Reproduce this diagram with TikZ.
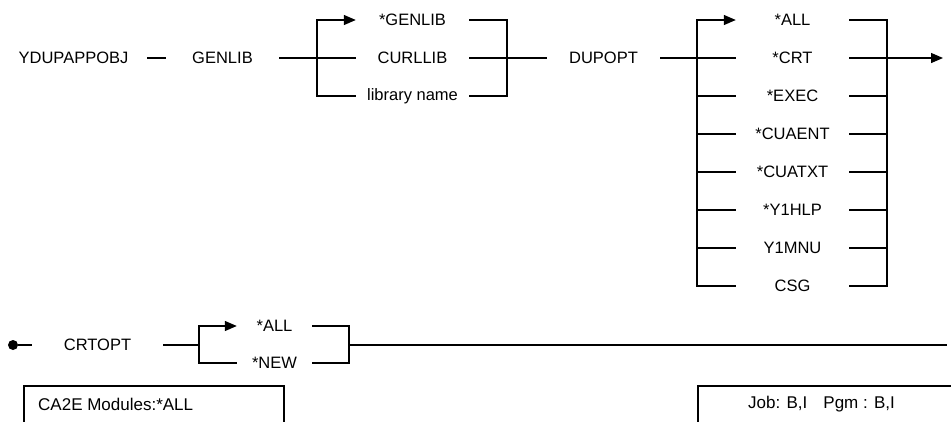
\documentclass[tikz,border=0pt]{standalone}
\usepackage{fontspec}
\setmainfont{Liberation Sans}
\usetikzlibrary{positioning, arrows.meta, calc}

\begin{document}
\begin{tikzpicture}[
  x=1pt, y=-1pt,
  kw/.style={font=\fontsize{16.5}{18}\selectfont, inner sep=0pt,
    minimum width=#1, minimum height=38pt},
  kw/.default={113pt},
  rail/.style={line width=1.3pt},
  panel/.style={draw, line width=1.6pt, inner sep=0pt},
  boxtxt/.style={font=\fontsize{17}{19}\selectfont, inner sep=0pt},
  >={Triangle[length=12pt, width=10pt]}
]
  \useasboundingbox (0,0) rectangle (951,421);
  \clip (0,0) rectangle (951,421);
  % command and first keyword
  \node[kw=147pt] (cmd) at (73.5, 58) {YDUPAPPOBJ};
  \node[kw] (kgen) at (222.5, 58) {GENLIB};
  % library choices
  \node[kw] (g1) at (412.5, 20) {*GENLIB};
  \node[kw] (g2) at (412.5, 58) {CURLLIB};
  \node[kw] (g3) at (412.5, 96) {library name};
  % second keyword
  \node[kw] (kdup) at (603.5, 58) {DUPOPT};
  % duplicate options
  \foreach \name [count=\i] in {*ALL, *CRT, *EXEC, *CUAENT, *CUATXT, *Y1HLP, Y1MNU, CSG} {
    \node[kw] (d\i) at (792.5, {20+38*(\i-1)}) {\name};
  }
  % third line
  \node[circle, fill, inner sep=0pt, minimum size=10pt] (start) at (13, 345) {};
  \node[kw=131pt] (kcrt) at (97.5, 345) {CRTOPT};
  \node[kw=75pt] (c1) at (274.5, 326) {*ALL};
  \node[kw=75pt] (c2) at (274.5, 363) {*NEW};
  % junctions
  \coordinate (s1) at (317, 58);
  \coordinate (m1) at (507, 58);
  \coordinate (s2) at (697, 58);
  \coordinate (m2) at (887, 58);
  \coordinate (out) at (943, 58);
  \coordinate (s3) at (199, 345);
  \coordinate (m3) at (349, 345);
  \coordinate (tail) at (947, 345);
  % connections, first line
  \draw[rail] (cmd.east) -- (kgen.west);
  \draw[rail] (kgen.east) -- (g2.west);
  \draw[rail, ->] (g3.west) -| (s1) |- (g1.west);
  \draw[rail] (g1.east) -| (m1) |- (g3.east);
  \draw[rail] (g2.east) -- (kdup.west);
  \draw[rail] (kdup.east) -- (d2.west);
  \draw[rail, ->] (s2) |- (d1.west);
  \draw[rail] (s2) |- (d8.west);
  \draw[rail] (d1.east) -| (m2) |- (d8.east);
  \foreach \i in {3,...,7} {
    \draw[rail] (d\i.west) -- (d\i.west -| s2);
    \draw[rail] (d\i.east) -- (d\i.east -| m2);
  }
  \draw[rail, ->] (d2.east) -- (out);
  % connections, third line
  \draw[rail] (start) -- (kcrt.west);
  \draw[rail] (kcrt.east) -- (s3);
  \draw[rail, ->] (s3) |- (c1.west);
  \draw[rail] (s3) |- (c2.west);
  \draw[rail] (c1.east) -| (m3) |- (c2.east);
  \draw[rail] (m3) -- (tail);
  % footer boxes
  \node[panel, anchor=north west, minimum width=260pt, minimum height=60pt] (modbox) at (23, 385) {};
  \node[boxtxt, anchor=west] (modtxt) at ([xshift=15pt, yshift=-19pt]modbox.north west) {CA2E Modules:*ALL};
  \node[panel, anchor=north west, minimum width=280pt, minimum height=60pt] (jobbox) at (697, 385) {};
  \node[boxtxt, anchor=west] (jobtxt) at ([xshift=51pt, yshift=-19pt]jobbox.north west) {Job: B,I\hspace{16pt}Pgm : B,I};
\end{tikzpicture}
\end{document}
